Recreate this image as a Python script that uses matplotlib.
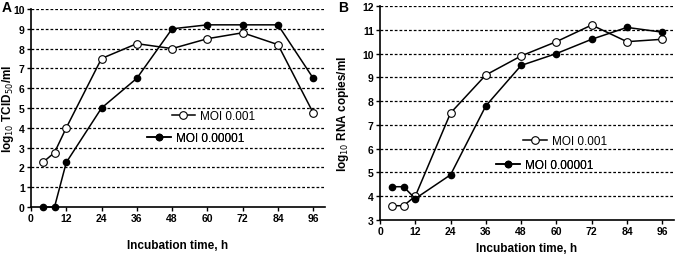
import matplotlib
matplotlib.use("Agg")
import matplotlib.pyplot as plt

plt.rcParams.update({
    "font.family": ["Liberation Sans", "DejaVu Sans"],
    "font.size": 8,
})

hours = [4, 8, 12, 24, 36, 48, 60, 72, 84, 96]
xticks = [0, 12, 24, 36, 48, 60, 72, 84, 96]

# panel A: log10 TCID50/ml
a_moi_001 = [2.25, 2.75, 4.0, 7.5, 8.25, 8.0, 8.5, 8.8, 8.2, 4.75]
a_moi_00001 = [0.0, 0.0, 2.25, 5.0, 6.5, 9.0, 9.2, 9.2, 9.2, 6.5]

# panel B: log10 RNA copies/ml
b_moi_001 = [3.6, 3.6, 4.0, 7.5, 9.1, 9.9, 10.5, 11.2, 10.5, 10.6]
b_moi_00001 = [4.4, 4.4, 3.9, 4.9, 7.8, 9.5, 10.0, 10.6, 11.1, 10.9]

fig = plt.figure(figsize=(6.76, 2.55), dpi=100)
axA = fig.add_axes([31/676, 1-208/255, (325-31)/676, (208-10)/255])
axB = fig.add_axes([380/676, 1-221/255, (674-380)/676, (221-7)/255])


def style(ax, ylo, yhi):
    ax.set_xlim(0, 100)
    ax.set_ylim(ylo, yhi)
    ax.set_xticks(xticks)
    ax.set_yticks(range(ylo, yhi + 1))
    for y in range(ylo + 1, yhi + 1):
        ax.axhline(y, color="black", lw=0.9, ls=(0, (2.2, 1.6)), zorder=1)
    for s in ("top", "right"):
        ax.spines[s].set_visible(False)
    for s in ("left", "bottom"):
        ax.spines[s].set_linewidth(1.2)
    ax.tick_params(direction="out", length=3, width=1, pad=1.5)
    for lab in ax.get_xticklabels() + ax.get_yticklabels():
        lab.set_fontweight("bold")
        lab.set_fontsize(7.5)
    ax.set_xlabel("Incubation time, h", fontweight="bold", fontsize=8.5)


def draw(ax, open_vals, filled_vals):
    l1, = ax.plot(hours, open_vals, color="black", lw=1.1, marker="o", ms=5.5,
                  mfc="white", mec="black", mew=0.8, zorder=3, clip_on=False)
    l2, = ax.plot(hours, filled_vals, color="black", lw=1.1, marker="o", ms=4.5,
                  mfc="black", mec="black", zorder=3, clip_on=False)
    return l1, l2


def legend_row(ax, handle, text, x, y):
    leg = ax.legend([handle], [text], loc="center", bbox_to_anchor=(x, y),
                    frameon=False, fontsize=8.5, handlelength=2.0,
                    handletextpad=0.4)
    ax.add_artist(leg)


style(axA, 0, 10)
l1, l2 = draw(axA, a_moi_001, a_moi_00001)
axA.set_ylabel("log$_{10}$ TCID$_{50}$/ml", fontweight="bold", fontsize=8.5)
axA.yaxis.set_label_coords(-0.05, 0.5)
axA.xaxis.labelpad = 11
legend_row(axA, l1, "MOI 0.001", 0.62, 0.46)
legend_row(axA, l2, "MOI 0.00001", 0.56, 0.35)

style(axB, 3, 12)
m1, m2 = draw(axB, b_moi_001, b_moi_00001)
axB.set_ylabel("log$_{10}$ RNA copies/ml", fontweight="bold", fontsize=8.5)
axB.yaxis.set_label_coords(-0.099, 0.5)
axB.xaxis.labelpad = 4
legend_row(axB, m1, "MOI 0.001", 0.63, 0.37)
legend_row(axB, m2, "MOI 0.00001", 0.56, 0.256)

fig.text(2/676, 1-8/255, "A", fontweight="bold", fontsize=10, va="center")
fig.text(338/676, 1-8/255, "B", fontweight="bold", fontsize=10, va="center")

fig.savefig("out.png", dpi=100)
